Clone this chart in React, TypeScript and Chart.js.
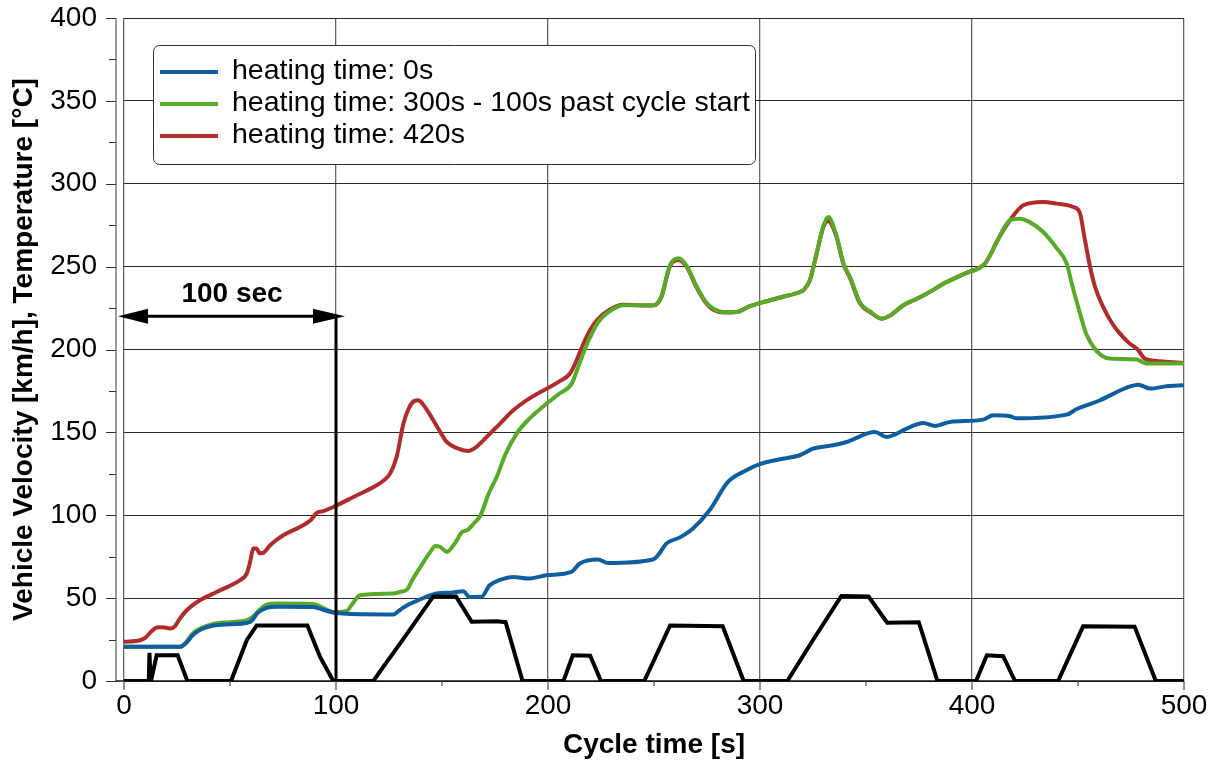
import React, { useEffect, useRef } from "react";
import { Chart, registerables } from "chart.js";

Chart.register(...registerables);

const FONT = '"Liberation Sans", Arial, Helvetica, sans-serif';

// Vehicle velocity [km/h]
const speedT = [0, 11.7, 12, 12.5, 13, 15.4, 25.3, 29.9, 50.5, 57.9, 62.6, 86.5, 92.5, 98.7, 117.6, 122.3, 130.2, 138, 145.9, 156.6, 164, 176, 180, 188, 207.3, 211.7, 219.9, 225, 245.4, 257.6, 282.4, 292.3, 312.9, 325, 338.4, 351.2, 360, 374.9, 383.7, 401.9, 407, 414.7, 420.3, 440.6, 452.4, 476.7, 486.7, 500];
const speedV = [0, 0, 17, 2, 1.5, 15.5, 15.5, 0, 0, 24.6, 33.5, 33.5, 14.5, 0, 0, 8.5, 22.6, 36.7, 51, 51, 35.7, 36, 35.5, 0, 0, 15.5, 15.2, 0, 0, 33.5, 33, 0, 0, 24.7, 51.3, 51, 35.2, 35.5, 0, 0, 15.5, 15, 0, 0, 33, 32.8, 0, 0];

// heating time: 0s
const blueT = [0, 26.4, 29, 32.7, 37, 42.1, 50, 57.9, 60, 63, 67.3, 72, 89.3, 94, 98.7, 105, 127, 130, 134, 138, 147.5, 154, 160, 163, 168.6, 172.5, 177.4, 183.6, 190.7, 199.4, 211, 215, 223.6, 228.3, 249.5, 252, 255.8, 262, 268.4, 276.2, 284.9, 293.6, 299.9, 309.3, 318.7, 325, 334.5, 340.8, 354.2, 359.8, 362.9, 369.2, 377, 382.5, 389.6, 405.3, 410, 417.9, 421.1, 444.7, 449.4, 460.4, 473, 478.5, 484, 491.8, 500];
const blueV = [20.6, 20.6, 22.5, 28, 31.5, 33.5, 34.3, 35, 36, 41, 44.1, 44.8, 44.7, 43, 41.3, 40.5, 40.1, 42.7, 46, 48.3, 52.8, 53.3, 54.2, 50.7, 50.8, 57.8, 61, 62.8, 61.8, 63.8, 65.8, 70.9, 73.3, 71.2, 73.3, 76, 82.9, 86.5, 92, 103, 120.1, 127.1, 130.8, 133.8, 136.2, 140.2, 142.2, 144.2, 150.2, 147.2, 148.3, 152.3, 155.7, 153.9, 156.3, 157.7, 160.3, 159.7, 158.5, 160.7, 164.1, 169.4, 177, 178.8, 176.4, 177.8, 178.4];

// heating time: 300s - 100s past cycle start
const greenT = [0, 26.4, 29, 32.7, 42.1, 50, 57.9, 61, 64, 67.3, 72, 89.3, 94, 98.7, 105, 108, 111.3, 127, 131, 133.5, 136, 139.8, 144, 146.9, 149, 152.4, 156, 159.5, 161.9, 165, 168.2, 172, 175.8, 180, 185.2, 191, 199.4, 205, 211.2, 213, 215.1, 219, 223.7, 229, 235.5, 249.7, 253.5, 257.4, 261.5, 265.4, 270, 274.7, 278, 283, 289, 295, 301.6, 310, 318.9, 320.4, 323.5, 326.7, 329.9, 332.2, 336.1, 339.3, 342.5, 347.2, 351.9, 357.4, 362, 367.6, 373, 378.6, 388, 397, 406.1, 409, 411.6, 417.9, 422.6, 427, 433.6, 440, 444.7, 447, 451, 454, 457.3, 461, 465.1, 477.7, 481, 484, 500];
const greenV = [20.6, 20.6, 23, 29, 34.5, 35.5, 36.7, 39, 43, 46, 46.7, 46.5, 44, 41.7, 42.3, 47, 51.7, 52.8, 54, 55.2, 61, 68.8, 77, 81.5, 81, 77.9, 83, 89.9, 91, 95, 100, 113, 123.1, 137, 149.3, 158, 167.4, 173, 179.4, 185, 192.5, 205, 216.6, 223, 226.7, 226.7, 232, 250.5, 255, 250.5, 238.3, 228.2, 224.7, 222.6, 222.6, 226, 228.6, 231.5, 234.7, 235.7, 241.7, 258, 274.5, 280, 268.5, 252.3, 243.5, 228.2, 223, 218.6, 221, 226.7, 230, 233.7, 240.7, 246, 251.8, 258, 264.8, 277.9, 278.9, 277, 270.9, 261, 251.8, 240, 221.6, 209, 201.5, 196.5, 194.5, 193.9, 192, 191.5, 191.5];

// heating time: 420s
const redT = [0, 7.5, 10, 13, 15.4, 18, 21.7, 24, 26, 29.6, 35.8, 43.7, 50, 54.7, 57.9, 59.5, 61, 62.5, 64, 65.7, 68.9, 75.1, 83, 88, 90.9, 94, 98.7, 108.2, 119.2, 123, 125.5, 128.6, 131.8, 134.5, 137, 138.8, 141, 145.9, 150, 152.2, 157, 162.4, 166, 169.5, 177.4, 183.6, 190, 199.4, 205, 210.4, 213, 216.7, 220, 223, 229, 235.5, 249.7, 253.5, 257.4, 261.5, 265.4, 270, 274.7, 278, 283, 289, 295, 301.6, 310, 318.9, 320.4, 323.5, 326.7, 329.9, 332.2, 336.1, 339.3, 342.5, 347.2, 351.9, 357.4, 362, 367.6, 373, 378.6, 388, 397, 406.1, 409, 411.6, 417.9, 424.2, 433.6, 440, 447.8, 451, 453, 455.7, 458, 461.9, 466, 469.8, 474, 478.5, 481, 484, 490, 500];
const redV = [23.6, 24.6, 26, 30, 32.3, 32.5, 31.7, 33, 37, 42.7, 48.7, 53.7, 57.5, 60.8, 64.8, 72, 79.9, 80, 77, 77.3, 81.9, 87.9, 92.9, 97, 101.4, 102.5, 105, 111, 118.1, 121.5, 125.1, 135.2, 155.3, 165, 169, 169.4, 167, 157.3, 148.5, 144.2, 140.5, 138.8, 141, 145.2, 155.3, 163.3, 169.5, 176.4, 180.5, 185.5, 192, 203.5, 212, 217.6, 224, 227, 226.5, 231.7, 249.8, 254, 249.8, 237.7, 227.7, 224, 222.3, 222.6, 226, 228.6, 231.5, 234.7, 235.7, 241.7, 257.8, 273.9, 277.5, 267.9, 251.8, 243, 227.7, 222.6, 218.6, 221, 226.7, 230, 233.7, 240.7, 246, 251.8, 258, 264.8, 277.9, 287, 289, 288, 286, 282, 268, 249.8, 238, 225.6, 216, 209.6, 204, 199.5, 195, 193.5, 192.8, 191.9];

const legendLabels = ["heating time: 0s", "heating time: 300s - 100s past cycle start", "heating time: 420s"];
const xTitle = "Cycle time [s]";
const yTitle = "Vehicle Velocity [km/h], Temperature [°C]";
const annotationText = "100 sec";
const annotationX = [0, 100];
const annotationY = 220;

const BLUE = "#0f5fa0";
const GREEN = "#58ab27";
const RED = "#b22b2b";

const toPts = (t: number[], v: number[]) => t.map((x, i) => ({ x, y: v[i] }));

const axesPlugin = {
  id: "customAxes",
  beforeDatasetsDraw(chart: any) {
    const { ctx, chartArea: ca, scales } = chart;
    const x = scales.x;
    const y = scales.y;
    const ax = ca.left - 8;
    ctx.save();
    ctx.strokeStyle = "#666";
    ctx.lineWidth = 1.3;
    ctx.beginPath();
    ctx.moveTo(ax, ca.top);
    ctx.lineTo(ax, ca.bottom);
    ctx.stroke();
    ctx.strokeStyle = "#333";
    ctx.lineWidth = 1;
    for (let v = 0; v <= 400; v += 25) {
      const py = Math.round(y.getPixelForValue(v)) + 0.5;
      const len = v % 50 === 0 ? 10 : 7;
      ctx.beginPath();
      ctx.moveTo(ax - len, py);
      ctx.lineTo(ax, py);
      ctx.stroke();
    }
    ctx.strokeStyle = "#111";
    ctx.lineWidth = 1.5;
    ctx.beginPath();
    ctx.moveTo(ax, ca.bottom);
    ctx.lineTo(ca.right, ca.bottom);
    ctx.stroke();
    ctx.strokeStyle = "#555";
    ctx.lineWidth = 1.3;
    for (let v = 0; v <= 500; v += 50) {
      const px = x.getPixelForValue(v);
      const len = v % 100 === 0 ? 9 : 5;
      ctx.beginPath();
      ctx.moveTo(px, ca.bottom);
      ctx.lineTo(px, ca.bottom + len);
      ctx.stroke();
    }
    ctx.restore();
  },
  afterDatasetsDraw(chart: any) {
    const { ctx, chartArea: ca, scales } = chart;
    const x = scales.x;
    const y = scales.y;
    ctx.save();
    // annotation
    const ay = y.getPixelForValue(annotationY);
    const x0 = x.getPixelForValue(annotationX[0]) - 6;
    const x1 = x.getPixelForValue(annotationX[1]);
    const tipR = x1 + 9;
    ctx.strokeStyle = "#000";
    ctx.fillStyle = "#000";
    ctx.lineWidth = 3;
    ctx.beginPath();
    ctx.moveTo(x0 + 10, ay);
    ctx.lineTo(tipR - 10, ay);
    ctx.stroke();
    ctx.beginPath();
    ctx.moveTo(x0, ay);
    ctx.lineTo(x0 + 30, ay - 7.5);
    ctx.lineTo(x0 + 30, ay + 7.5);
    ctx.closePath();
    ctx.fill();
    ctx.beginPath();
    ctx.moveTo(tipR, ay);
    ctx.lineTo(tipR - 32, ay - 7.5);
    ctx.lineTo(tipR - 32, ay + 7.5);
    ctx.closePath();
    ctx.fill();
    ctx.beginPath();
    ctx.moveTo(x1, ay);
    ctx.lineTo(x1, ca.bottom);
    ctx.stroke();
    ctx.font = "bold 28px " + FONT;
    ctx.textAlign = "center";
    ctx.textBaseline = "middle";
    ctx.fillText(annotationText, (x.getPixelForValue(annotationX[0]) + x1) / 2 + 2, ay - 22);

    // legend
    const bx = 153.5, by = 45.5, bw = 602, bh = 119, r = 6;
    ctx.beginPath();
    ctx.moveTo(bx + r, by);
    ctx.lineTo(bx + bw - r, by);
    ctx.arcTo(bx + bw, by, bx + bw, by + r, r);
    ctx.lineTo(bx + bw, by + bh - r);
    ctx.arcTo(bx + bw, by + bh, bx + bw - r, by + bh, r);
    ctx.lineTo(bx + r, by + bh);
    ctx.arcTo(bx, by + bh, bx, by + bh - r, r);
    ctx.lineTo(bx, by + r);
    ctx.arcTo(bx, by, bx + r, by, r);
    ctx.closePath();
    ctx.fillStyle = "#fff";
    ctx.fill();
    ctx.strokeStyle = "#333";
    ctx.lineWidth = 1;
    ctx.stroke();
    const colors = [BLUE, GREEN, RED];
    ctx.font = "28.5px " + FONT;
    ctx.textAlign = "left";
    ctx.textBaseline = "middle";
    legendLabels.forEach((lab, i) => {
      const ly = 72 + i * 32;
      ctx.strokeStyle = colors[i];
      ctx.lineWidth = 4;
      ctx.beginPath();
      ctx.moveTo(160, ly);
      ctx.lineTo(218, ly);
      ctx.stroke();
      ctx.fillStyle = "#000";
      ctx.fillText(lab, 232, ly - 1);
    });
    ctx.restore();
  },
};

export default function App() {
  const ref = useRef<HTMLCanvasElement | null>(null);
  useEffect(() => {
    if (!ref.current) return;
    const common = { pointRadius: 0, borderWidth: 4, fill: false, cubicInterpolationMode: "monotone" as const };
    const chart = new Chart(ref.current, {
      type: "line",
      data: {
        datasets: [
          { label: "speed", data: toPts(speedT, speedV), borderColor: "#000", ...common, borderWidth: 4, cubicInterpolationMode: "default" as any, tension: 0 },
          { label: legendLabels[0], data: toPts(blueT, blueV), borderColor: BLUE, ...common },
          { label: legendLabels[1], data: toPts(greenT, greenV), borderColor: GREEN, ...common },
          { label: legendLabels[2], data: toPts(redT, redV), borderColor: RED, ...common },
        ],
      },
      options: {
        animation: false,
        responsive: false,
        events: [],
        layout: { padding: { left: 0, right: 32, top: 18, bottom: 0 } },
        plugins: { legend: { display: false }, tooltip: { enabled: false }, title: { display: false } },
        scales: {
          x: {
            type: "linear",
            min: 0,
            max: 500,
            border: { display: false },
            grid: {
              drawTicks: false,
              lineWidth: 1.3,
              color: (c: any) => (c.tick && c.tick.value % 100 === 0 ? "#666" : "rgba(0,0,0,0)"),
            },
            ticks: {
              stepSize: 50,
              autoSkip: false,
              maxRotation: 0,
              padding: 8,
              color: "#000",
              font: { family: FONT, size: 28 },
              callback: (v: any) => (Number(v) % 100 === 0 ? String(v) : ""),
            },
            title: {
              display: true,
              text: xTitle,
              color: "#000",
              font: { family: FONT, size: 28, weight: "bold", lineHeight: 1 },
              padding: { top: 0, bottom: 1 },
            },
            afterFit: (s: any) => {
              s.height = 79;
              s.paddingLeft = 0;
              s.paddingRight = 0;
            },
          },
          y: {
            type: "linear",
            min: 0,
            max: 400,
            border: { display: false },
            grid: {
              drawTicks: false,
              lineWidth: 1,
              color: (c: any) => (c.tick && c.tick.value % 50 === 0 ? "#2a2a2a" : "rgba(0,0,0,0)"),
            },
            ticks: {
              stepSize: 25,
              autoSkip: false,
              padding: 27,
              color: "#000",
              font: { family: FONT, size: 28 },
              callback: (v: any) => (Number(v) % 50 === 0 ? String(v) : ""),
            },
            title: {
              display: true,
              text: yTitle,
              color: "#000",
              font: { family: FONT, size: 28, weight: "bold", lineHeight: 1 },
              padding: { top: 10, bottom: 0 },
            },
            afterFit: (s: any) => {
              s.width = 124;
              s.paddingTop = 0;
              s.paddingBottom = 0;
            },
          },
        },
      },
      plugins: [axesPlugin],
    });
    return () => chart.destroy();
  }, []);
  return (
    <div style={{ position: "absolute", left: 0, top: 0, width: 1216, height: 760, background: "#fff" }}>
      <canvas ref={ref} width={1216} height={760} style={{ display: "block" }} />
    </div>
  );
}
